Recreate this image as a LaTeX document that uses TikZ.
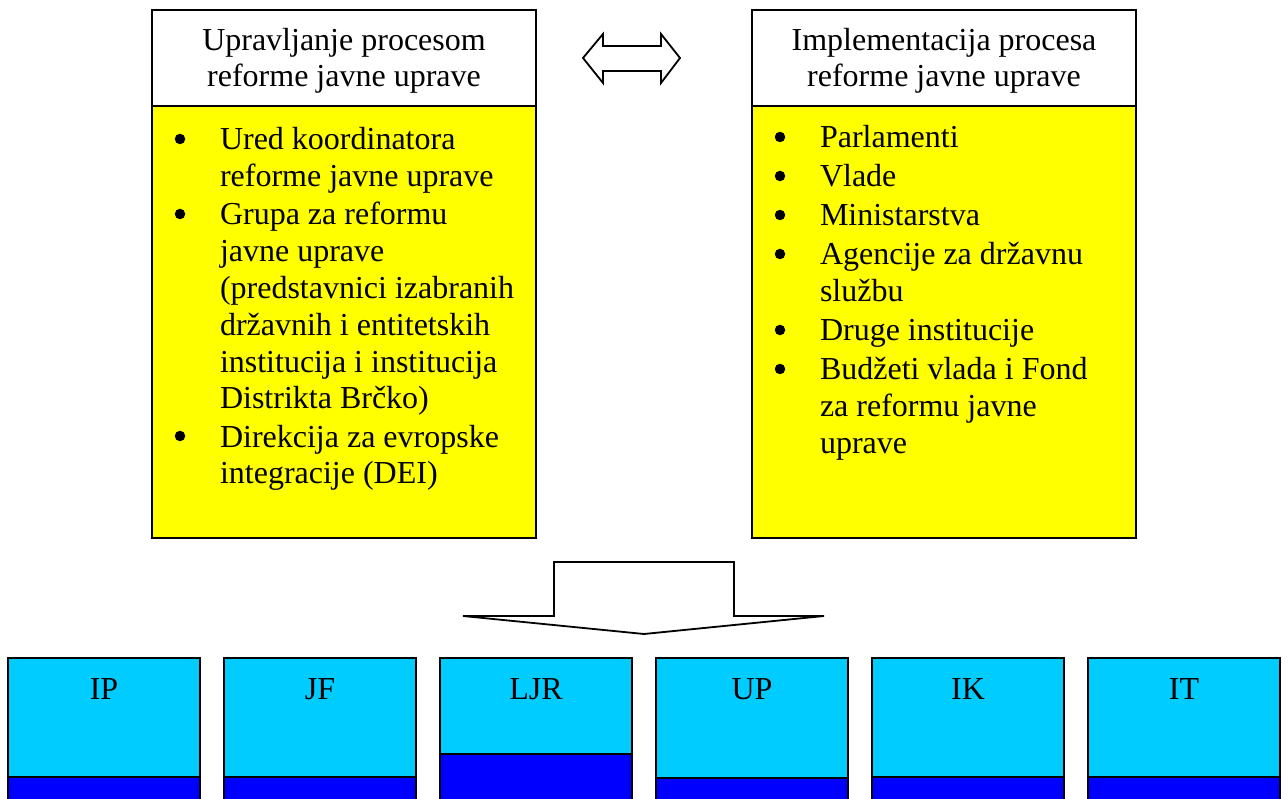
\documentclass[tikz,border=0pt]{standalone}
\usepackage{fontspec}
\setmainfont{Liberation Serif}
\definecolor{boxyellow}{RGB}{255,255,0}
\definecolor{boxcyan}{RGB}{0,204,255}
\definecolor{boxblue}{RGB}{0,0,255}
\begin{document}
\begin{tikzpicture}[x=1pt,y=-1pt,
  box/.style={draw=black,line width=1.8pt,inner sep=0pt,outer sep=0pt},
  hdrbox/.style={box,fill=white,minimum width=384pt,minimum height=96pt},
  bodybox/.style={box,fill=boxyellow,minimum width=384pt,minimum height=432pt},
  txt/.style={inner sep=0pt,outer sep=0pt,font=\fontsize{32}{36.8}\selectfont},
  itm/.style={txt,anchor=base west},
  bul/.style={circle,fill=black,inner sep=0pt,minimum size=10.5pt},
  blockarrow/.style={draw=black,line width=1.8pt,fill=white,line join=miter}]
\useasboundingbox (0,0) rectangle (1288,799);
\clip (0,0) rectangle (1288,799);

% top boxes
\node[hdrbox] (lh) at (344,58) {};
\node[bodybox] (lb) at (344,322) {};
\node[hdrbox] (rh) at (944,58) {};
\node[bodybox] (rb) at (944,322) {};

\node[txt,anchor=base] (lht1) at (344,51) {Upravljanje procesom};
\node[txt,anchor=base] (lht2) at (344,87) {reforme javne uprave};
\node[txt,anchor=base] (rht1) at (944,51) {Implementacija procesa};
\node[txt,anchor=base] (rht2) at (944,87) {reforme javne uprave};

% left items
\node[bul] (lb1) at (180,139) {};
\node[itm] (li1) at (220,150) {\parbox[t]{310pt}{Ured koordinatora\\reforme javne uprave}};
\node[bul] (lb2) at (180,214) {};
\node[itm] (li2) at (220,225) {\parbox[t]{310pt}{Grupa za reformu\\javne uprave\\(predstavnici izabranih\\državnih i entitetskih\\institucija i institucija\\Distrikta Brčko)}};
\node[bul] (lb3) at (180,436) {};
\node[itm] (li3) at (220,447) {\parbox[t]{310pt}{Direkcija za evropske\\integracije (DEI)}};

% right items
\node[bul] (rb1) at (780,137) {};
\node[itm] (ri1) at (820,148) {Parlamenti};
\node[bul] (rb2) at (780,176) {};
\node[itm] (ri2) at (820,187) {Vlade};
\node[bul] (rb3) at (780,215) {};
\node[itm] (ri3) at (820,226) {Ministarstva};
\node[bul] (rb4) at (780,254) {};
\node[itm] (ri4) at (820,265) {\parbox[t]{310pt}{Agencije za državnu\\službu}};
\node[bul] (rb5) at (780,330) {};
\node[itm] (ri5) at (820,341) {Druge institucije};
\node[bul] (rb6) at (780,369) {};
\node[itm] (ri6) at (820,380) {\parbox[t]{310pt}{Budžeti vlada i Fond\\za reformu javne\\uprave}};

% double arrow
\coordinate (dal) at (583,58);
\coordinate (dar) at (680,58);
\draw[blockarrow] (dal) -- (603,34) -- (603,46) -- (661,46) -- (661,34) -- (dar)
  -- (661,83) -- (661,71) -- (603,71) -- (603,83) -- cycle;

% down arrow
\coordinate (dtip) at (644,634);
\draw[blockarrow] (554,562) -- (734,562) -- (734,616) -- (824,616) -- (dtip)
  -- (463,616) -- (554,616) -- cycle;

% bottom boxes
\foreach \name/\cx/\lab/\split in {ip/104/IP/777, jf/320/JF/777, ljr/536/LJR/754, up/752/UP/778, ik/968/IK/777, it/1184/IT/777}{
  \draw[box,fill=boxblue] (\cx-96,\split) rectangle (\cx+96,830);
  \draw[box,fill=boxcyan] (\cx-96,658) rectangle (\cx+96,\split);
  \node[txt,anchor=base] (\name) at (\cx,699) {\lab};
}
\end{tikzpicture}
\end{document}
